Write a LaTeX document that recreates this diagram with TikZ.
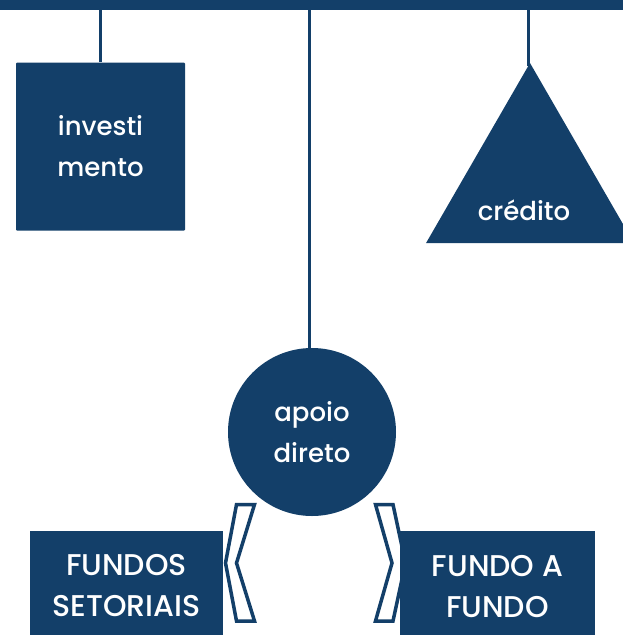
\documentclass[tikz,border=0pt]{standalone}
\usepackage{fontspec}
\setmainfont{Poppins}[UprightFont=* Medium]
\usetikzlibrary{shapes.geometric}
\definecolor{navy}{HTML}{133F69}
\tikzset{
  lowtxt/.style={font=\fontsize{26}{41}\selectfont},
  captxt/.style={font=\fontsize{30}{41}\selectfont},
  shapebox/.style={fill=navy, draw=none, inner sep=0pt, text=white, align=center, lowtxt},
  link/.style={draw=navy, line width=3pt},
  chev/.style={draw=navy, fill=white, line width=3.5pt, line join=miter}
}
\begin{document}
\begin{tikzpicture}[x=1pt,y=-1pt]
\useasboundingbox (0,0) rectangle (623,635);
\clip (0,0) rectangle (623,635);
% top bar
\node[shapebox, rectangle, minimum width=640pt, minimum height=10pt] (bar) at (311.5,5) {};
% nodes
\node[shapebox, rectangle, minimum width=169pt, minimum height=168pt, rounded corners=1pt] (inv) at (100.5,146.5) {investi\\mento};
\node[shapebox, regular polygon, regular polygon sides=3, minimum size=240pt] (cred) at (530,183) {};
\node[text=white, lowtxt] (credtxt) at (524,210) {crédito};
\node[shapebox, circle, minimum size=168pt] (apoio) at (312,432) {apoio\\direto};
% chevrons
\draw[chev] (236.5,504.5) -- (254.5,504.5) -- (236.5,563) -- (254.5,621) -- (236.5,621) -- (225.5,563) -- cycle;
\draw[chev] (375.5,504.5) -- (393,504.5) -- (405.5,563) -- (393,621) -- (375.5,621) -- (392,563) -- cycle;
% bottom boxes
\node[shapebox, rectangle, minimum width=193pt, minimum height=130pt] (fs) at (126.5,596) {};
\node[text=white, align=center, captxt] (fstxt) at (126.5,586) {FUNDOS\\SETORIAIS};
\node[shapebox, rectangle, minimum width=195pt, minimum height=130pt] (ff) at (497.5,596) {};
\node[text=white, align=center, captxt] (fftxt) at (497.5,587) {FUNDO A\\FUNDO};
% connectors
\draw[link] (inv.north |- bar.south) -- (inv.north);
\draw[link] ([xshift=-2.5pt]apoio.north |- bar.south) -- ([xshift=-2.5pt]apoio.north);
\draw[link] ([xshift=-1.5pt]cred.north |- bar.south) -- ([xshift=-1.5pt,yshift=-3pt]cred.north);
\end{tikzpicture}
\end{document}
